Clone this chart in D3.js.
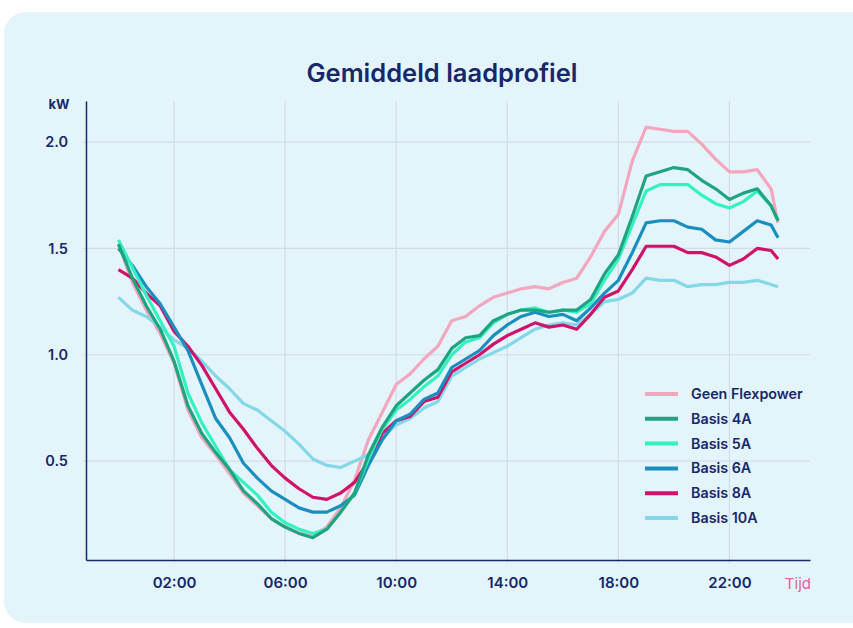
<!DOCTYPE html>
<html>
<head>
<meta charset="utf-8">
<script src="https://cdn.jsdelivr.net/npm/d3@7"></script>
<style>
  html, body { margin: 0; padding: 0; background: #ffffff; }
  svg { display: block; font-family: Inter, "Noto Sans", sans-serif; }
</style>
</head>
<body>
<svg id="chart"></svg>
<script>
const vWidth = 853
const vHeight = 628

// hours of the day (half-hour steps, last point 23:45)
const hours = [0, 0.5, 1, 1.5, 2, 2.5, 3, 3.5, 4, 4.5, 5, 5.5, 6, 6.5, 7, 7.5, 8, 8.5, 9, 9.5,
  10, 10.5, 11, 11.5, 12, 12.5, 13, 13.5, 14, 14.5, 15, 15.5, 16, 16.5, 17, 17.5, 18, 18.5, 19, 19.5,
  20, 20.5, 21, 21.5, 22, 22.5, 23, 23.5, 23.75]

const geenFlexpower = [1.52, 1.34, 1.21, 1.10, 0.96, 0.74, 0.61, 0.53, 0.44, 0.35, 0.29, 0.23, 0.19, 0.16, 0.15, 0.19,
  0.28, 0.41, 0.60, 0.73, 0.86, 0.91, 0.98, 1.04, 1.16, 1.18, 1.23, 1.27, 1.29, 1.31, 1.32, 1.31, 1.34, 1.36, 1.46, 1.58,
  1.66, 1.91, 2.07, 2.06, 2.05, 2.05, 1.99, 1.92, 1.86, 1.86, 1.87, 1.78, 1.62]
const basis4A = [1.52, 1.36, 1.23, 1.12, 0.97, 0.76, 0.63, 0.54, 0.46, 0.36, 0.30, 0.23, 0.19, 0.16, 0.14, 0.18,
  0.26, 0.35, 0.53, 0.66, 0.76, 0.82, 0.88, 0.93, 1.03, 1.08, 1.09, 1.16, 1.19, 1.21, 1.21, 1.20, 1.21, 1.21, 1.26, 1.38,
  1.47, 1.65, 1.84, 1.86, 1.88, 1.87, 1.82, 1.78, 1.73, 1.76, 1.78, 1.70, 1.63]
const basis5A = [1.54, 1.41, 1.28, 1.16, 1.04, 0.82, 0.68, 0.57, 0.46, 0.40, 0.34, 0.26, 0.21, 0.18, 0.16, 0.18,
  0.26, 0.35, 0.51, 0.65, 0.74, 0.79, 0.85, 0.90, 1.00, 1.06, 1.08, 1.15, 1.19, 1.21, 1.22, 1.20, 1.21, 1.20, 1.24, 1.35,
  1.45, 1.61, 1.77, 1.80, 1.80, 1.80, 1.75, 1.71, 1.69, 1.72, 1.77, 1.70, 1.63]
const basis6A = [1.50, 1.42, 1.32, 1.24, 1.13, 1.02, 0.86, 0.70, 0.61, 0.49, 0.42, 0.36, 0.32, 0.28, 0.26, 0.26,
  0.29, 0.34, 0.48, 0.60, 0.69, 0.72, 0.79, 0.82, 0.94, 0.98, 1.02, 1.09, 1.14, 1.18, 1.20, 1.18, 1.19, 1.16, 1.22, 1.29,
  1.35, 1.48, 1.62, 1.63, 1.63, 1.60, 1.59, 1.54, 1.53, 1.58, 1.63, 1.61, 1.55]
const basis8A = [1.40, 1.36, 1.29, 1.23, 1.11, 1.04, 0.95, 0.84, 0.73, 0.65, 0.56, 0.48, 0.42, 0.37, 0.33, 0.32,
  0.35, 0.40, 0.50, 0.63, 0.69, 0.71, 0.78, 0.80, 0.92, 0.96, 1.00, 1.05, 1.09, 1.12, 1.15, 1.13, 1.14, 1.12, 1.19, 1.27,
  1.30, 1.40, 1.51, 1.51, 1.51, 1.48, 1.48, 1.46, 1.42, 1.45, 1.50, 1.49, 1.45]
const basis10A = [1.27, 1.21, 1.18, 1.13, 1.07, 1.03, 0.97, 0.90, 0.84, 0.77, 0.74, 0.69, 0.64, 0.58, 0.51, 0.48,
  0.47, 0.50, 0.53, 0.61, 0.67, 0.70, 0.75, 0.78, 0.90, 0.94, 0.98, 1.01, 1.04, 1.08, 1.12, 1.14, 1.15, 1.14, 1.19, 1.25,
  1.26, 1.29, 1.36, 1.35, 1.35, 1.32, 1.33, 1.33, 1.34, 1.34, 1.35, 1.33, 1.32]

const seriesNames = ['Geen Flexpower', 'Basis 4A', 'Basis 5A', 'Basis 6A', 'Basis 8A', 'Basis 10A']
const seriesValues = [geenFlexpower, basis4A, basis5A, basis6A, basis8A, basis10A]
const seriesColors = ['#f2a7be', '#1fa47f', '#33f2c2', '#1a8fbf', '#d1126b', '#82d8e6']
// draw order: pink at the back, Basis 4A on top
const drawOrder = [0, 5, 4, 3, 2, 1]

const xTicks = [2, 6, 10, 14, 18, 22]
const yTicks = [0.5, 1.0, 1.5, 2.0]

const navy = '#16286a'
const gridColor = '#d3dbe7'

const svg = d3.select('#chart')
  .attr('width', vWidth)
  .attr('height', vHeight)

// card background
svg.append('rect')
  .attr('x', 4)
  .attr('y', 12)
  .attr('width', 900)
  .attr('height', 611)
  .attr('rx', 22)
  .attr('fill', '#e3f5fa')

const x = d3.scaleLinear().domain([-1.17, 24.9]).range([86, 810])
const y = d3.scaleLinear().domain([0.035, 2.193]).range([560, 101])

svg.append('text')
  .attr('x', 442)
  .attr('y', 82)
  .attr('text-anchor', 'middle')
  .attr('fill', navy)
  .attr('font-size', '25.5px')
  .attr('font-weight', 600)
  .text('Gemiddeld laadprofiel')

// grid
svg.append('g').selectAll('line')
  .data(yTicks)
  .enter()
  .append('line')
  .attr('x1', 83)
  .attr('x2', 810)
  .attr('y1', (d) => y(d))
  .attr('y2', (d) => y(d))
  .attr('stroke', gridColor)
  .attr('stroke-width', 1.2)

svg.append('g').selectAll('line')
  .data(xTicks)
  .enter()
  .append('line')
  .attr('x1', (d) => x(d))
  .attr('x2', (d) => x(d))
  .attr('y1', 101)
  .attr('y2', 563)
  .attr('stroke', gridColor)
  .attr('stroke-width', 1.2)

// axes
const xAxis = svg.append('g')
  .attr('transform', 'translate(0,560)')
  .call(d3.axisBottom(x).tickValues(xTicks).tickSize(0).tickPadding(17)
    .tickFormat((d) => String(d).padStart(2, '0') + ':00'))
xAxis.select('.domain').attr('stroke', navy).attr('stroke-width', 1.5)
xAxis.selectAll('text')
  .attr('fill', navy)
  .attr('font-size', '15px')
  .attr('font-weight', 600)
  .attr('font-family', 'Inter, sans-serif')

const yAxis = svg.append('g')
  .attr('transform', 'translate(86,0)')
  .call(d3.axisLeft(y).tickValues(yTicks).tickSize(0).tickPadding(18).tickFormat(d3.format('.1f')))
yAxis.select('.domain').attr('stroke', navy).attr('stroke-width', 1.5)
yAxis.selectAll('text')
  .attr('fill', navy)
  .attr('font-size', '14.5px')
  .attr('font-weight', 600)
  .attr('font-family', 'Inter, sans-serif')

svg.append('text')
  .attr('x', 59)
  .attr('y', 109)
  .attr('text-anchor', 'middle')
  .attr('fill', navy)
  .attr('font-size', '13px')
  .attr('font-weight', 700)
  .text('kW')

svg.append('text')
  .attr('x', 811)
  .attr('y', 589)
  .attr('text-anchor', 'end')
  .attr('fill', '#e0609c')
  .attr('font-size', '15px')
  .text('Tijd')

// lines
const line = d3.line()
  .x((d) => x(d[0]))
  .y((d) => y(d[1]))

svg.append('g').selectAll('path')
  .data(drawOrder)
  .enter()
  .append('path')
  .attr('d', (i) => line(hours.map((h, j) => [h, seriesValues[i][j]])))
  .attr('fill', 'none')
  .attr('stroke', (i) => seriesColors[i])
  .attr('stroke-width', 3.2)
  .attr('stroke-linejoin', 'round')

// legend
const legend = svg.append('g').selectAll('g')
  .data(seriesNames)
  .enter()
  .append('g')
  .attr('transform', (_, i) => 'translate(645,' + (394 + i * 24.8) + ')')

legend.append('line')
  .attr('x1', 0)
  .attr('x2', 33)
  .attr('stroke', (_, i) => seriesColors[i])
  .attr('stroke-width', 4)

legend.append('text')
  .attr('x', 46)
  .attr('dy', '0.35em')
  .attr('fill', navy)
  .attr('font-size', '14.3px')
  .attr('font-weight', 600)
  .text((d) => d)
</script>
</body>
</html>
